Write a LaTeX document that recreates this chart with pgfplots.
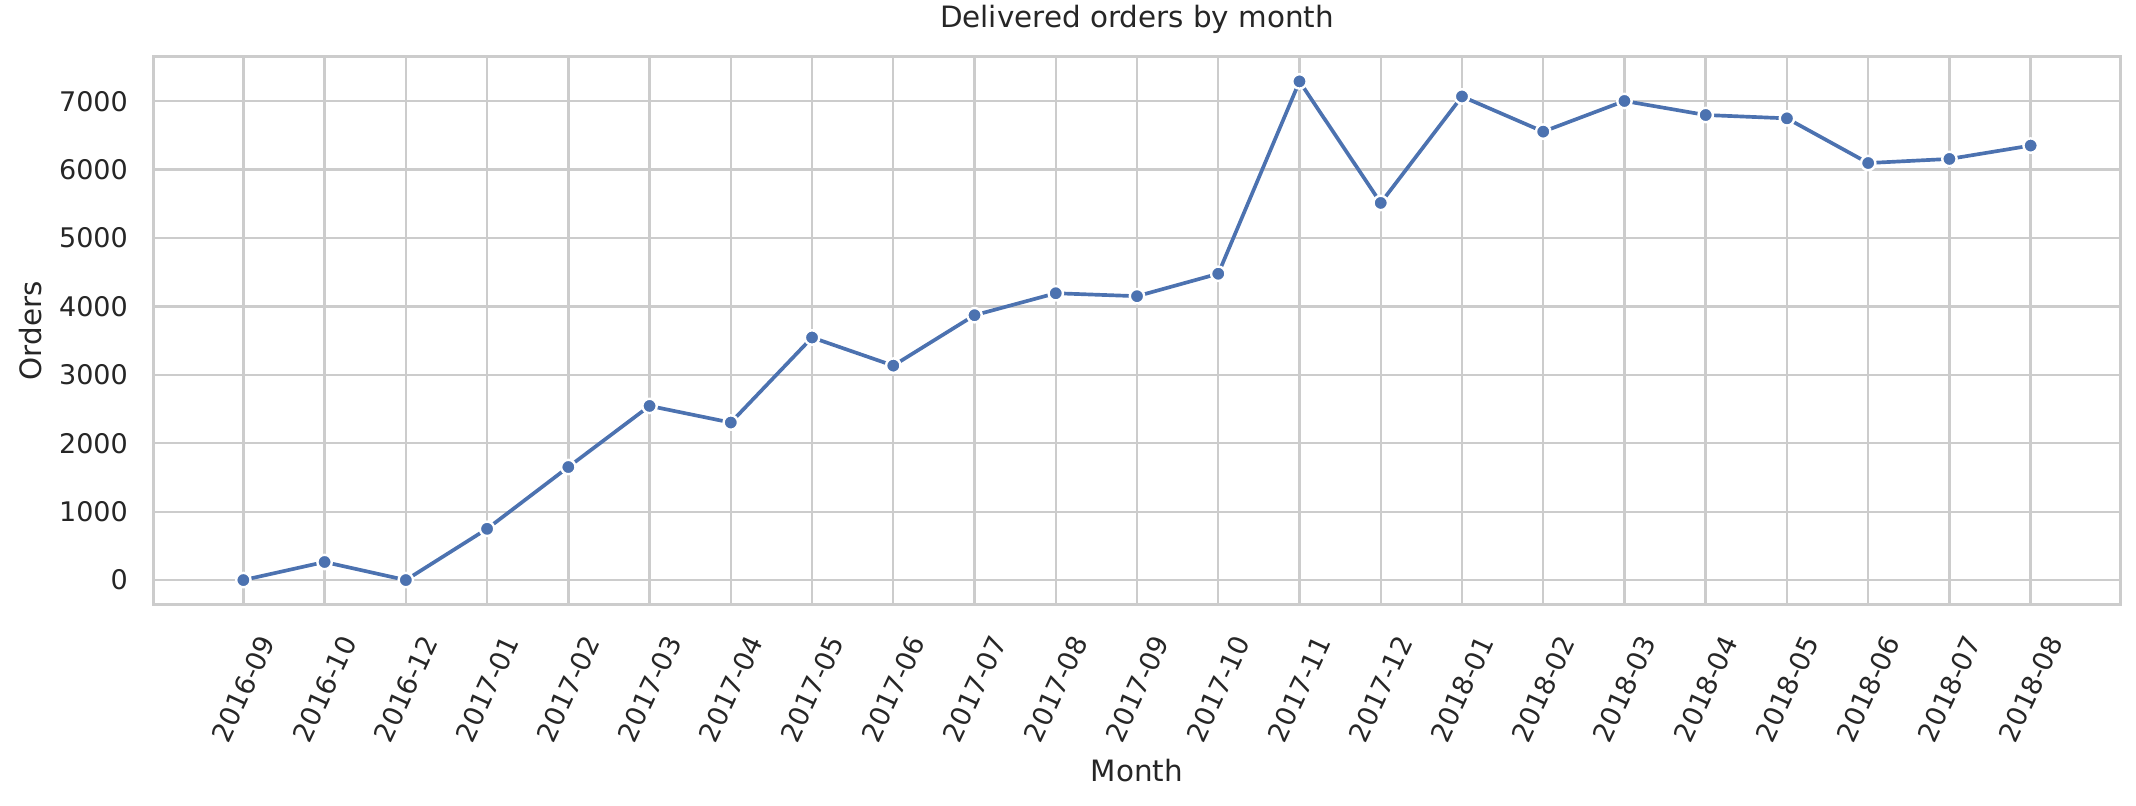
\documentclass[border=0pt]{standalone}
\usepackage{pgfplots}
\pgfplotsset{compat=1.18}
\usepackage{fontspec}
\setmainfont{DejaVu Sans}
\definecolor{sbblue}{HTML}{4C72B0}
\definecolor{gridc}{HTML}{CCCCCC}
\definecolor{txt}{HTML}{262626}
\newcommand\rl[1]{\rotatebox{65}{#1}}
\begin{document}
\begin{tikzpicture}
\useasboundingbox (-77pt,-100.5pt) rectangle (991pt,302.5pt);
\begin{axis}[
  at={(0,0)}, anchor=south west,
  scale only axis,
  width=983pt, height=274.25pt,
  xmin=-1.1, xmax=23.1,
  ymin=-363.4, ymax=7653.4,
  xtick={0,...,22},
  xticklabels={\rl{2016-09},\rl{2016-10},\rl{2016-12},\rl{2017-01},\rl{2017-02},\rl{2017-03},\rl{2017-04},\rl{2017-05},\rl{2017-06},\rl{2017-07},\rl{2017-08},\rl{2017-09},\rl{2017-10},\rl{2017-11},\rl{2017-12},\rl{2018-01},\rl{2018-02},\rl{2018-03},\rl{2018-04},\rl{2018-05},\rl{2018-06},\rl{2018-07},\rl{2018-08}},
  ytick={0,1000,...,7000},
  major tick length=0pt,
  grid=major,
  major grid style={gridc, line width=1.2pt},
  axis line style={gridc, line width=1.5pt},
  /pgf/number format/assume math mode=true,
  /pgf/number format/set thousands separator={},
  xticklabel style={anchor=north, inner sep=0pt, yshift=-14pt, text=txt, font=\fontsize{13.5}{16}\selectfont},
  yticklabel style={anchor=east, inner sep=0pt, xshift=-12.9pt, text=txt, font=\fontsize{13.5}{16}\selectfont},
  xlabel={Month},
  ylabel={Orders},
  title={Delivered orders by month},
  xlabel style={at={(axis description cs:0.5,-0.3227)}, anchor=base, inner sep=0pt, text=txt, font=\fontsize{14.7}{17}\selectfont},
  ylabel style={at={(axis description cs:-0.0628,0.5)}, anchor=center, inner sep=0pt, rotate=0, text=txt, font=\fontsize{14.7}{17}\selectfont},
  title style={at={(axis description cs:0.5,1.0301)}, anchor=base, inner sep=0pt, text=txt, font=\fontsize{14.7}{17}\selectfont},
]
\addplot[sbblue, line width=1.84pt, mark=*, mark size=3.6pt,
  mark options={fill=sbblue, draw=white, line width=1.2pt}]
  coordinates {
  (0,1) (1,265) (2,1) (3,750) (4,1653) (5,2546) (6,2303) (7,3546)
  (8,3135) (9,3872) (10,4193) (11,4150) (12,4478) (13,7289) (14,5513)
  (15,7069) (16,6555) (17,7003) (18,6798) (19,6749) (20,6096) (21,6156) (22,6351)
  };
\end{axis}
\end{tikzpicture}
\end{document}
